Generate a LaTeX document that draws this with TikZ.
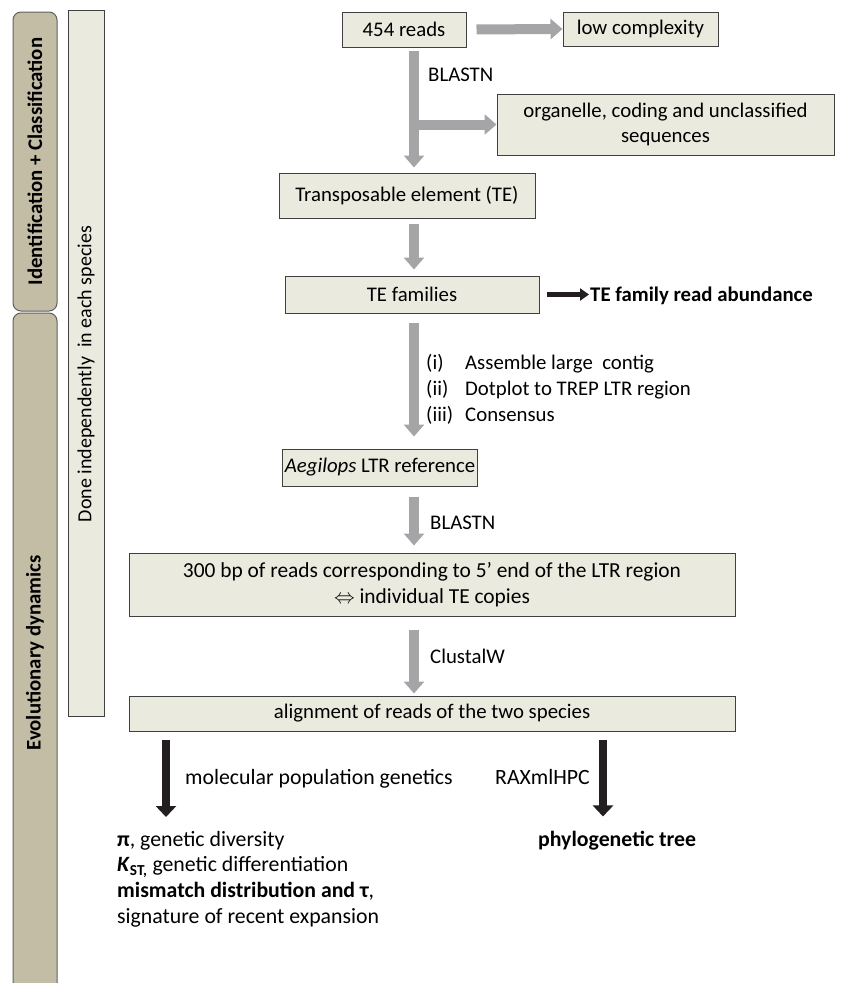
\documentclass[tikz,border=0pt]{standalone}
\usepackage{fontspec}
\setmainfont{Carlito}
\usetikzlibrary{arrows.meta}
\definecolor{boxfill}{RGB}{235,234,223}
\definecolor{boxline}{RGB}{64,64,64}
\definecolor{barfill}{RGB}{196,189,166}
\definecolor{barline}{RGB}{96,96,96}
\definecolor{flowgrey}{RGB}{165,165,168}
\definecolor{flowblack}{RGB}{35,31,32}
\newcommand{\flowfont}{\fontsize{20.8}{25.5}\selectfont}
\newcommand{\resfont}{\fontsize{21.8}{25.6}\selectfont}

\begin{document}
\begin{tikzpicture}[x=1pt,y=-1pt,font=\flowfont,
  procbox/.style={draw=boxline,line width=1pt,fill=boxfill,inner sep=2pt,align=center},
  sidebar/.style={draw=barline,line width=1pt,fill=barfill,rounded corners=8pt,rotate=90,minimum height=44pt,inner sep=0pt},
  donebar/.style={draw=boxline,line width=1pt,fill=boxfill,rotate=90,minimum height=36pt,inner sep=0pt},
  greyflow/.style={draw=flowgrey,line width=10pt,-{Triangle[width=20pt,length=12pt]}},
  blackflow/.style={draw=flowblack,line width=8pt,-{Triangle[width=20pt,length=11pt]}},
  leadflow/.style={draw=flowblack,line width=5pt,-{Triangle[width=12pt,length=9pt]}},
  tag/.style={anchor=base west,inner sep=0pt}]
  \clip (0,0) rectangle (842,983);
  % side bars
  \node[sidebar,minimum width=299pt,font=\flowfont\bfseries] (idbar) at (35,161.5) {Identification + Classification};
  \node[sidebar,minimum width=680pt,font=\flowfont\bfseries] (evobar) at (35,653) {Evolutionary dynamics};
  \node[donebar,minimum width=706pt,font=\fontsize{20}{24}\selectfont] (done) at (86,363) {};
  \node[rotate=90,inner sep=0pt,font=\fontsize{20}{24}\selectfont] (donetxt) at (86,374) {Done independently~ in each species};
  % boxes
  \node[procbox,minimum width=124pt,minimum height=35pt] (reads) at (404,29.5) {454 reads};
  \node[procbox,minimum width=155pt,minimum height=34pt] (lowc) at (640.5,29) {low complexity};
  \node[procbox,minimum width=337pt,minimum height=61pt] (organ) at (665.5,124.5) {organelle, coding and unclassified\\sequences};
  \node[procbox,minimum width=256pt,minimum height=45pt] (transp) at (407,195.5) {Transposable element (TE)};
  \node[procbox,minimum width=254pt,minimum height=37pt] (fam) at (412,294.5) {TE families};
  \node[procbox,minimum width=190pt,minimum height=37pt] (aeg) at (380,467.5) {\textit{Aegilops} LTR reference};
  \node[procbox,minimum width=606pt,minimum height=63pt,font=\fontsize{21.4}{26}\selectfont] (reads300) at (432,584.5) {300 bp of reads corresponding to 5’ end of the LTR region\\$\Leftrightarrow$ individual TE copies};
  \node[procbox,minimum width=606pt,minimum height=35pt] (align) at (432,713.5) {alignment of reads of the two species};
  % texts
  \node[tag] (blast1) at (428,81) {BLASTN};
  \node[tag] (abund) at (590,301) {\textbf{TE family read abundance}};
  \foreach \y/\num/\txt [count=\i] in {369/{(i)}/{Assemble large~ contig},395/{(ii)}/{Dotplot to TREP LTR region},421/{(iii)}/{Consensus}}
    {\node[tag] (num\i) at (426,\y) {\num};
     \node[tag] (item\i) at (465,\y) {\txt};}
  \node[tag] (blast2) at (430,529) {BLASTN};
  \node[tag] (clustal) at (430,663) {ClustalW};
  \node[tag,font=\resfont] (molpop) at (185,784) {molecular population genetics};
  \node[tag,font=\resfont] (raxml) at (495,784) {RAXmlHPC};
  \node[anchor=north west,inner sep=0pt,align=left,font=\resfont] (popres) at (117,831)
    {\textbf{π}, genetic diversity\\
     \textbf{\textit{K}}\textsubscript{\textbf{ST,}} genetic differentiation\\
     \textbf{mismatch distribution and τ},\\
     signature of recent expansion};
  \node[tag,font=\resfont] (phylo) at (538,846) {\textbf{phylogenetic tree}};
  % arrows
  \coordinate (spine) at (414,0);
  \coordinate (popx) at (166,0);
  \coordinate (phyx) at (603,0);
  \draw[greyflow,shorten <=10pt] (reads.east) -- (lowc.west);
  \draw[greyflow,shorten <=3pt,shorten >=5pt] (reads.south -| spine) -- (transp.north -| spine);
  \draw[greyflow] (organ.west -| spine) -- (organ.west);
  \draw[greyflow,shorten <=5pt,shorten >=6pt] (transp.south -| spine) -- (fam.north -| spine);
  \draw[greyflow,shorten <=9pt,shorten >=12pt] (fam.south -| spine) -- (aeg.north -| spine);
  \draw[greyflow,shorten <=10pt,shorten >=7pt] (aeg.south -| spine) -- (reads300.north -| spine);
  \draw[greyflow,shorten <=13pt,shorten >=2pt] (reads300.south -| spine) -- (align.north -| spine);
  \draw[leadflow,shorten <=7pt,shorten >=1pt] (fam.east) -- (fam.east -| abund.west);
  \draw[blackflow,shorten <=8pt,shorten >=14pt] (align.south -| popx) -- (popres.north -| popx);
  \draw[blackflow,shorten <=8pt,shorten >=14pt] (align.south -| phyx) -- (phylo.north -| phyx);
\end{tikzpicture}
\end{document}
